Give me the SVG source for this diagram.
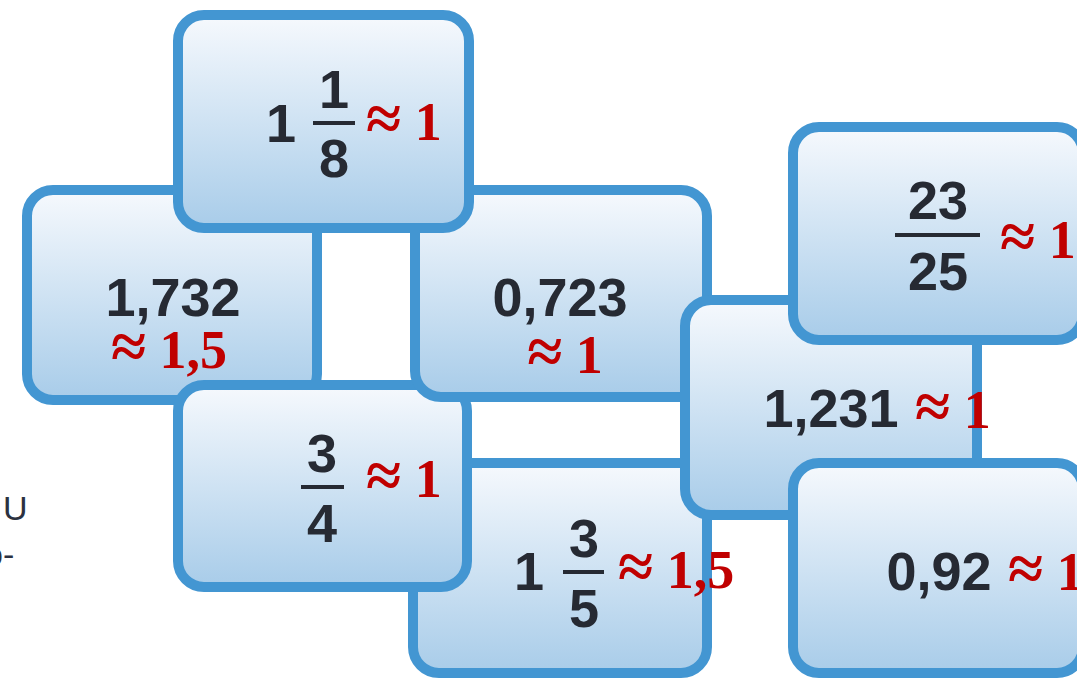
<svg xmlns="http://www.w3.org/2000/svg" width="1077" height="679" viewBox="0 0 1077 679">
  <defs>
    <linearGradient id="tileFill" x1="0" y1="0" x2="0" y2="1">
      <stop offset="0" stop-color="#f6f9fd"/>
      <stop offset="1" stop-color="#a8cce9"/>
    </linearGradient>
    <style>
      .tile { fill: url(#tileFill); stroke: #4396d2; stroke-width: 10; }
      .num { font-family: "Liberation Sans", Arial, sans-serif; font-weight: bold; font-size: 54px; fill: #262a33; }
      .frac { text-anchor: middle; }
      .mid { text-anchor: middle; }
      .bar { stroke: #262a33; stroke-width: 4; }
      .est { font-family: "Liberation Serif", "Times New Roman", serif; font-weight: bold; font-size: 54px; fill: #c00000; }
      .approx { font-size: 64px; }
      .side { font-family: "Liberation Sans", Arial, sans-serif; font-size: 34px; fill: #2b3140; }
    </style>
  </defs>
  <rect width="1077" height="679" fill="#ffffff"/>

  <!-- text fragments cut off at the left margin -->
  <text class="side" x="3" y="520">U</text>
  <text class="side" x="-16" y="566">o-</text>

  <!-- tiles, back to front -->
  <g id="tile-1732">
    <rect class="tile" x="27" y="190" width="290" height="210" rx="26"/>
    <text class="num mid" x="173" y="316">1,732</text>
    <text class="est mid" x="169" y="368"><tspan class="approx">≈</tspan> 1,5</text>
  </g>

  <g id="tile-1-3-5">
    <rect class="tile" x="413" y="463" width="294" height="210" rx="26"/>
    <text class="num" x="514" y="590">1</text>
    <text class="num frac" x="584" y="557">3</text>
    <line class="bar" x1="563" y1="572" x2="604" y2="572"/>
    <text class="num frac" x="584" y="627">5</text>
    <text class="est" x="618" y="588"><tspan class="approx">≈</tspan> 1,5</text>
  </g>

  <g id="tile-3-4">
    <rect class="tile" x="178" y="385" width="289" height="202" rx="26"/>
    <text class="num frac" x="322" y="472">3</text>
    <line class="bar" x1="301" y1="487" x2="344" y2="487"/>
    <text class="num frac" x="322" y="542">4</text>
    <text class="est" x="366" y="497"><tspan class="approx">≈</tspan> 1</text>
  </g>

  <g id="tile-0723">
    <rect class="tile" x="415" y="190" width="292" height="207" rx="26"/>
    <text class="num mid" x="560" y="316">0,723</text>
    <text class="est mid" x="565" y="373"><tspan class="approx">≈</tspan> 1</text>
  </g>

  <g id="tile-1-1-8">
    <rect class="tile" x="178" y="15" width="291" height="213" rx="26"/>
    <text class="num" x="266" y="142">1</text>
    <text class="num frac" x="334" y="108">1</text>
    <line class="bar" x1="313" y1="123" x2="355" y2="123"/>
    <text class="num frac" x="334" y="177">8</text>
    <text class="est" x="366" y="140"><tspan class="approx">≈</tspan> 1</text>
  </g>

  <g id="tile-1231">
    <rect class="tile" x="685" y="300" width="292" height="215" rx="26"/>
    <text class="num mid" x="831" y="427">1,231</text>
    <text class="est" x="915" y="428"><tspan class="approx">≈</tspan> 1</text>
  </g>

  <g id="tile-23-25">
    <rect class="tile" x="793" y="127" width="290" height="213" rx="26"/>
    <text class="num frac" x="938" y="219">23</text>
    <line class="bar" x1="895" y1="235" x2="980" y2="235"/>
    <text class="num frac" x="938" y="290">25</text>
    <text class="est" x="1000" y="258"><tspan class="approx">≈</tspan> 1</text>
  </g>

  <g id="tile-092">
    <rect class="tile" x="793" y="463" width="290" height="210" rx="26"/>
    <text class="num mid" x="939" y="590">0,92</text>
    <text class="est" x="1008" y="590"><tspan class="approx">≈</tspan> 1</text>
  </g>
</svg>
